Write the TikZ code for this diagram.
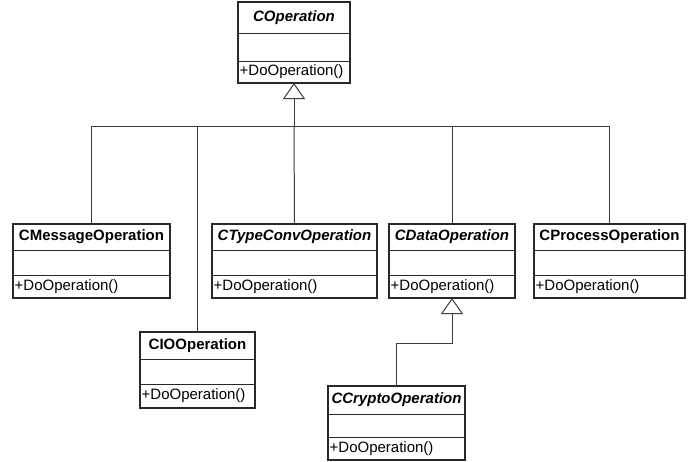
\documentclass[tikz,border=0pt]{standalone}
\usepackage{fontspec}
\setmainfont{Liberation Sans}
\usetikzlibrary{arrows.meta}
\definecolor{boxline}{RGB}{40,40,40}
\definecolor{connline}{RGB}{60,60,60}
\tikzset{
  classbox/.style={draw=boxline, line width=1.1pt, fill=white, inner sep=0pt, outer sep=0pt},
  classline/.style={draw=boxline, line width=1pt},
  titletext/.style={inner sep=0pt, font=\fontsize{15}{18}\selectfont\bfseries},
  abstracttext/.style={inner sep=0pt, font=\fontsize{15}{18}\selectfont\bfseries\itshape},
  methodtext/.style={inner sep=0pt, font=\fontsize{15}{18}\selectfont, anchor=west},
  conn/.style={draw=connline, line width=1pt},
  gen/.style={conn, -{Triangle[open, length=16pt, width=22pt, line width=1pt, fill=white]}},
}
% name, left, top, right, bottom, sep1, sep2, title, title style
\newcommand{\umlclass}[9]{%
  \node[classbox, minimum width={(#4-#2)*1pt}, minimum height={(#5-#3)*1pt}] (#1) at ({(#2+#4)/2},{(#3+#5)/2}) {};
  \draw[classline] (#2,#6) -- (#4,#6);
  \draw[classline] (#2,#7) -- (#4,#7);
  \node[#9] (#1-t) at ({(#2+#4)/2},{(#3+#6)/2}) {#8};
  \node[methodtext] (#1-m) at (#2+1.5,{(#7+#5)/2}) {+DoOperation()};
}
\begin{document}
\begin{tikzpicture}[x=1pt, y=-1pt]
\useasboundingbox (0,0) rectangle (691,461);
\umlclass{cop}{238}{2}{350}{83}{33}{61}{COperation}{abstracttext}
\umlclass{msg}{13}{224}{170}{298}{250}{275}{CMessageOperation}{titletext}
\umlclass{tc}{212}{224}{377}{298}{250}{275}{CTypeConvOperation}{abstracttext}
\umlclass{data}{389}{224}{515}{298}{250}{275}{CDataOperation}{abstracttext}
\umlclass{proc}{534}{224}{685}{298}{250}{275}{CProcessOperation}{titletext}
\umlclass{io}{140}{332}{255}{408}{359}{384}{CIOOperation}{titletext}
\umlclass{crypto}{328}{386}{465}{460}{414}{437}{CCryptoOperation}{abstracttext}
\coordinate (bus) at (294,126);
\coordinate (cbend) at (452,343);
\draw[conn] (msg.north) |- (bus);
\draw[conn] (io.north) |- (bus);
\draw[conn] (tc.north) -- (bus);
\draw[conn] (data.north) |- (bus);
\draw[conn] (proc.north) |- (bus);
\draw[gen] (bus) -- (cop.south);
\draw[gen] (crypto.north) |- (cbend) -- (data.south);
\end{tikzpicture}
\end{document}
